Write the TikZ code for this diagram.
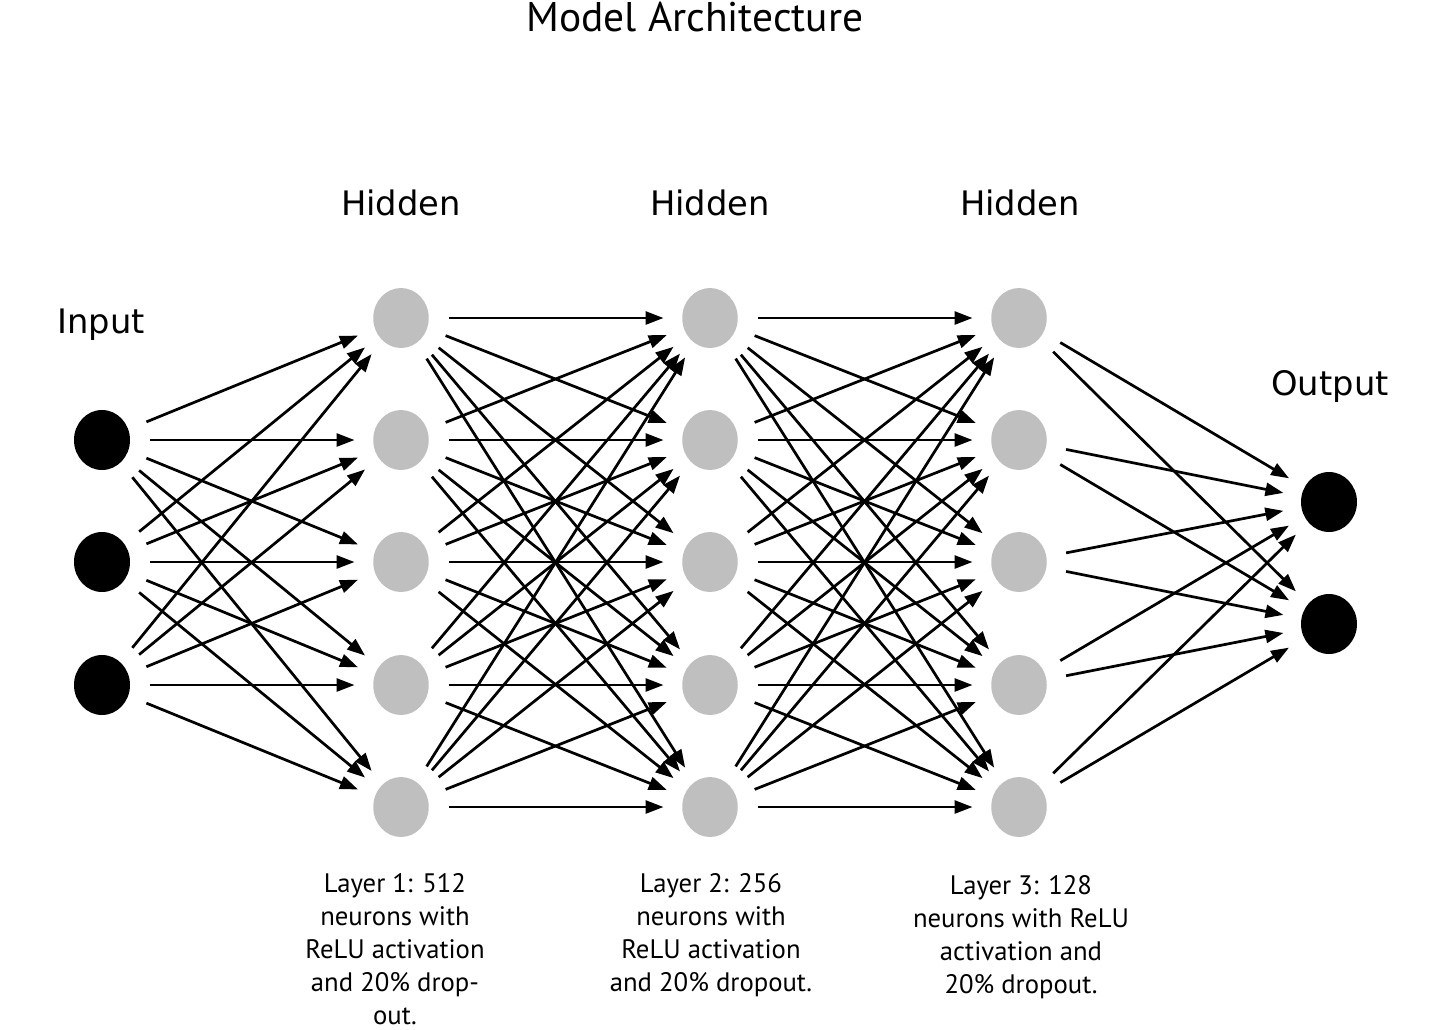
\documentclass[tikz,border=0pt]{standalone}
\usepackage{fontspec}
\setmainfont{PT Sans}
\newfontfamily\labfont{DejaVu Sans}
\usetikzlibrary{arrows.meta,shapes.geometric}
\begin{document}
\begin{tikzpicture}[x=0.02cm,y=-0.02cm,
  blackneuron/.style={ellipse, fill=black, minimum width=1.12cm, minimum height=1.2cm, inner sep=0pt},
  hidneuron/.style={ellipse, fill=black!25, minimum width=1.11cm, minimum height=1.2cm, inner sep=0pt},
  conn/.style={-{Triangle[length=0.36cm,width=0.26cm]}, line width=1.55pt, shorten <=0.96cm, shorten >=0.93cm},
  lab/.style={font=\labfont\fontsize{19.2}{23}\selectfont, inner sep=0pt},
  capt/.style={font=\fontsize{15.2}{18.8}\selectfont, align=center, anchor=north, inner sep=0pt}]
\useasboundingbox (0,0) rectangle (1431,1029);
% nodes
\foreach \y [count=\k] in {440,562,685} \node[blackneuron] (i\k) at (102,\y) {};
\foreach \x [count=\l] in {401,710,1019}
  \foreach \y [count=\k] in {318,440,562,685,807}
    \node[hidneuron] (h\l-\k) at (\x,\y) {};
\foreach \y [count=\k] in {502,624} \node[blackneuron] (o\k) at (1329,\y) {};
% connections
\foreach \a in {1,2,3} \foreach \b in {1,...,5} \draw[conn] (i\a.center) -- (h1-\b.center);
\foreach \l/\m in {1/2,2/3} \foreach \a in {1,...,5} \foreach \b in {1,...,5}
  \draw[conn] (h\l-\a.center) -- (h\m-\b.center);
\foreach \a in {1,...,5} \foreach \b in {1,2} \draw[conn] (h3-\a.center) -- (o\b.center);
% labels
\node[lab] (tin) at (101,325) {Input};
\node[lab] (th1) at (401,203) {Hidden};
\node[lab] (th2) at (710,203) {Hidden};
\node[lab] (th3) at (1020,203) {Hidden};
\node[lab] (tout) at (1330,386) {Output};
\node[font=\fontsize{23.6}{27}\selectfont, inner sep=0pt] (title) at (695,17) {Model Architecture};
\node[capt] (c1) at (395,873) {Layer 1: 512\\neurons with\\ReLU activation\\and 20\% drop-\\out.};
\node[capt] (c2) at (711,873) {Layer 2: 256\\neurons with\\ReLU activation\\and 20\% dropout.};
\node[capt] (c3) at (1021,875) {Layer 3: 128\\neurons with ReLU\\activation and\\20\% dropout.};
\end{tikzpicture}
\end{document}
